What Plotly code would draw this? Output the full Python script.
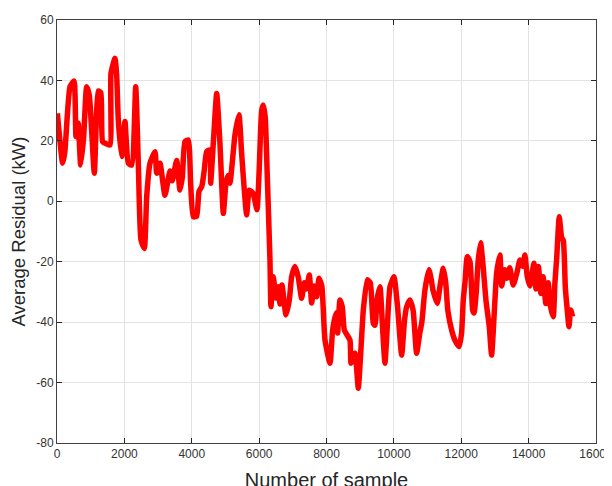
import plotly.graph_objects as go

# Sample index (x) and average residual in kW (y)
sample_index = [
    10, 168, 230, 386, 505, 564, 630, 703, 790, 880, 960, 1108, 1227, 1300, 1356, 1470, 1573,
    1603, 1721, 1770, 1820, 1919, 2018, 2117, 2217, 2336, 2414, 2493, 2592, 2662, 2760,
    2909, 2959, 3057, 3205, 3354, 3420, 3552, 3650, 3720, 3798, 3897, 3967, 4046, 4145,
    4214, 4300, 4373, 4441, 4540, 4560, 4640, 4740, 4838, 4937, 5016, 5080, 5134, 5283,
    5402, 5480, 5560, 5630, 5708, 5820, 5936, 6000, 6075, 6124, 6180, 6240, 6322,
    6351, 6421, 6500, 6569, 6620, 6678, 6797, 6896, 6965, 7064, 7160, 7262, 7342,
    7400, 7490, 7560, 7630, 7708, 7777, 7860, 7955, 8103, 8183, 8281, 8330, 8400,
    8470, 8529, 8697, 8727, 8845, 8944, 9010, 9093, 9211, 9300, 9389, 9440, 9500,
    9587, 9660, 9735, 9810, 9884, 10002, 10110, 10230, 10320, 10378, 10477, 10570,
    10675, 10770, 10830, 10922, 11041, 11110, 11160, 11288, 11370, 11466, 11540,
    11600, 11714, 11813, 11941, 12010, 12060, 12110, 12179, 12260, 12338, 12380,
    12450, 12500, 12575, 12650, 12733, 12832, 12901, 13000, 13050, 13148, 13200,
    13290, 13360, 13440, 13543, 13650, 13742, 13820, 13890, 13960, 14040, 14157,
    14220, 14290, 14365, 14430, 14510, 14580, 14652, 14731, 14780, 14830, 14909,
    14980, 15030, 15090, 15147, 15197, 15250, 15305
]
residual_kw = [
    29.1, 12.6, 16.0, 37.9, 39.8, 21.4, 25.8, 12.0, 21.0, 37.9, 35.0, 9.3, 36.5, 36.0, 19.7, 19.0, 18.6,
    42.4, 47.3, 42.0, 26.9, 14.8, 26.4, 12.6, 12.0, 37.9, 12.6, -12.8, -15.6, 1.5, 12.6,
    16.4, 9.3, 12.6, 2.0, 10.0, 6.8, 13.5, 3.7, 8.0, 19.7, 20.3, 6.0, -5.1, -5.0,
    3.2, 5.0, 10.4, 16.4, 17.0, 6.0, 19.2, 35.7, 19.0, -4.0, 6.0, 8.5, 6.0, 22.0,
    28.6, 16.0, 3.7, -4.5, 3.7, 2.6, -2.8, 10.0, 30.0, 31.9, 28.0, 9.0, -19.4,
    -34.9, -25.0, -32.0, -28.3, -34.0, -27.7, -37.6, -32.7, -25.0, -21.6, -25.0, -32.1, -27.0,
    -29.0, -24.4, -33.7, -28.0, -31.6, -25.5, -28.0, -45.9, -53.6, -42.6, -37.0, -43.6, -32.7,
    -35.0, -42.6, -46.0, -53.6, -50.3, -61.9, -51.4, -36.0, -26.0, -27.0, -40.4, -41.0, -32.7,
    -28.3, -41.0, -53.6, -40.4, -28.3, -25.0, -35.0, -50.9, -39.0, -35.0, -32.7, -36.0,
    -50.3, -43.6, -40.0, -29.4, -22.7, -26.0, -29.4, -33.8, -28.0, -22.2, -27.0,
    -36.0, -42.6, -46.0, -48.1, -43.6, -32.7, -27.0, -18.3, -20.0, -36.0, -37.0,
    -29.4, -20.0, -13.7, -21.6, -32.7, -41.5, -50.9, -32.7, -23.8, -17.8, -28.0,
    -22.7, -25.5, -22.0, -27.7, -23.8, -19.4, -21.5, -17.8, -24.9, -28.0, -20.5,
    -29.0, -21.6, -30.5, -25.0, -33.8, -27.0, -34.9, -38.2, -27.0, -19.4, -5.1,
    -12.0, -13.0, -28.6, -36.0, -41.5, -36.0, -38.2
]

x_ticks = [0, 2000, 4000, 6000, 8000, 10000, 12000, 14000, 16000]
y_ticks = [-80, -60, -40, -20, 0, 20, 40, 60]

FONT = "Liberation Sans, Arial, Helvetica, sans-serif"

fig = go.Figure()
fig.add_trace(go.Scatter(
    x=sample_index, y=residual_kw, mode="lines",
    line=dict(color="#ff0000", width=5.5, shape="spline", smoothing=0.5),
    showlegend=False,
))

axis_common = dict(
    showline=True, linecolor="#404040", linewidth=1, mirror="ticks",
    ticks="inside", ticklen=5, tickcolor="#262626",
    showgrid=True, gridcolor="#e3e3e3", gridwidth=1,
    zeroline=False, automargin=False,
    tickfont=dict(family=FONT, size=12, color="#333333"),
)

fig.update_layout(
    width=612, height=486,
    paper_bgcolor="white", plot_bgcolor="white",
    margin=dict(l=49, r=24, t=12, b=51),
    xaxis=dict(
        range=[0, 16000], tickvals=x_ticks, ticktext=[str(v) for v in x_ticks],
        title=dict(text="Number of sample", standoff=12,
                   font=dict(family=FONT, size=20, color="#262626")),
        **axis_common,
    ),
    yaxis=dict(
        range=[-80, 60], tickvals=y_ticks, ticktext=[str(v) for v in y_ticks],
        title=dict(text="Average Residual (kW)", standoff=6,
                   font=dict(family=FONT, size=18.5, color="#262626")),
        **axis_common,
    ),
)

fig.write_html("out.html")
